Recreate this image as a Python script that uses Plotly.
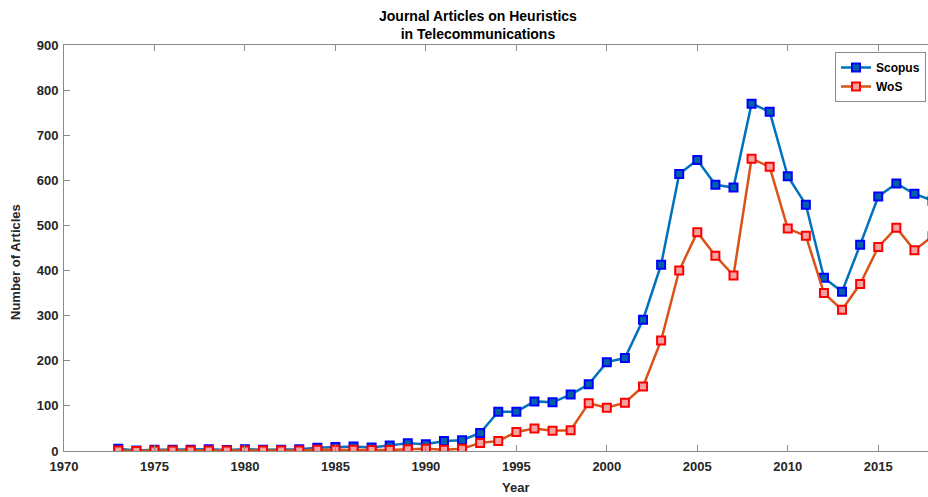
import plotly.graph_objects as go

years = list(range(1973, 2019))
scopus = [5, 1, 3, 3, 3, 4, 2, 4, 3, 3, 4, 7, 9, 10, 8, 12, 17, 15, 22, 24,
          40, 87, 87, 110, 108, 125, 148, 197, 206, 291, 413, 614, 645, 590, 584,
          770, 752, 609, 546, 384, 353, 457, 564, 593, 570, 555]
wos = [1, 0, 1, 1, 1, 1, 1, 1, 1, 1, 1, 3, 3, 3, 2, 2, 4, 5, 3, 5,
       18, 22, 42, 50, 45, 46, 106, 96, 107, 143, 245, 400, 485, 433, 389,
       648, 630, 493, 477, 350, 313, 370, 452, 495, 445, 476]

x_ticks = list(range(1970, 2020, 5))
y_ticks = list(range(0, 1000, 100))

FONT = "Liberation Sans, Arial, sans-serif"
W, H = 928, 497

fig = go.Figure()

fig.add_trace(go.Scatter(
    x=years, y=scopus, name="Scopus", mode="lines+markers",
    line=dict(color="#0072BD", width=2.5),
    marker=dict(symbol="square", size=8, color="#0062a8",
                line=dict(color="#0000ff", width=2)),
))
fig.add_trace(go.Scatter(
    x=years, y=wos, name="WoS", mode="lines+markers",
    line=dict(color="#D95319", width=2.5),
    marker=dict(symbol="square", size=8, color="#f4a3a3",
                line=dict(color="#ff0000", width=2)),
))

axis_color = "#8a8a8a"
tick_font = dict(family=FONT, size=13, color="#262626", weight="bold")

fig.update_xaxes(
    range=[1970, 2017.75], tickvals=x_ticks, ticks="inside", ticklen=6,
    tickcolor=axis_color, showline=True, linecolor=axis_color, linewidth=1,
    mirror="ticks", showgrid=False, zeroline=False, automargin=False,
    tickfont=tick_font, ticklabelstandoff=3,
)
fig.update_yaxes(
    range=[0, 900], tickvals=y_ticks, ticks="inside", ticklen=6,
    tickcolor=axis_color, showline=True, linecolor=axis_color, linewidth=1,
    mirror=False, showgrid=False, zeroline=False, automargin=False,
    tickfont=tick_font, ticklabelstandoff=2,
)

# title and axis labels as paper annotations (keeps the margins fixed)
label_font = dict(family=FONT, size=13, color="#262626", weight="bold")
fig.add_annotation(text="Journal Articles on Heuristics<br>in Telecommunications",
                   xref="paper", yref="paper", x=(478 - 64) / (W - 64), y=1 + 39 / (H - 91),
                   xanchor="center", yanchor="top", showarrow=False,
                   font=dict(family=FONT, size=14, color="black", weight="bold"))
fig.add_annotation(text="Year", xref="paper", yref="paper",
                   x=(515 - 64) / (W - 64), y=-(487 - 451) / (H - 91),
                   xanchor="center", yanchor="middle", showarrow=False, font=label_font)
fig.add_annotation(text="Number of Articles", xref="paper", yref="paper",
                   x=-(64 - 15) / (W - 64), y=(451 - 262) / (H - 91), textangle=-90,
                   xanchor="center", yanchor="middle", showarrow=False, font=label_font)

fig.update_layout(
    width=W, height=H,
    margin=dict(l=64, r=0, t=45, b=46, autoexpand=False),
    plot_bgcolor="white", paper_bgcolor="white",
    legend=dict(x=1 - 2 / (W - 64), xanchor="right", y=1 - 7 / (H - 91), yanchor="top",
                bgcolor="white", bordercolor=axis_color, borderwidth=1,
                font=dict(family=FONT, size=12, color="black", weight="bold"),
                tracegroupgap=0, itemwidth=30),
    showlegend=True,
)

# drop the default 8px body margin so the figure sits at the window's corner
fig.write_html("out.html", config={"displayModeBar": False},
               post_script="document.body.style.margin='0';")
